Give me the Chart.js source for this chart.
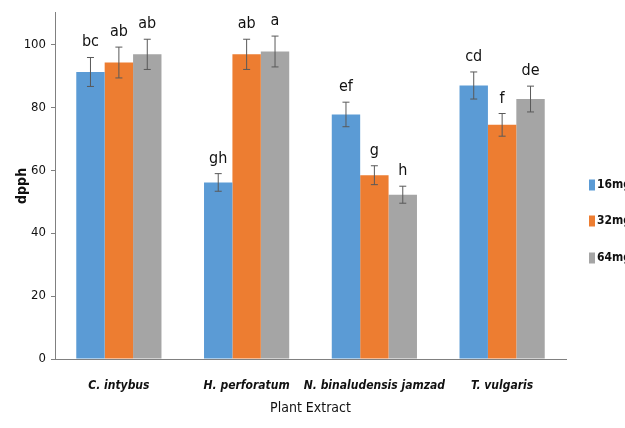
<!DOCTYPE html>
<html>
<head>
<meta charset="utf-8">
<script src="https://cdn.jsdelivr.net/npm/chart.js@4.4.0/dist/chart.umd.min.js"></script>
<style>
  html, body { margin: 0; padding: 0; background: #fff; }
  #wrap { width: 625px; height: 428px; }
</style>
</head>
<body>
<div id="wrap"><canvas id="bar-chart"></canvas></div>
<script>
// data
var plants = ["C. intybus", "H. perforatum", "N. binaludensis jamzad", "T. vulgaris"];
var doses = ["16mg", "32mg", "64mg"];
var dose16 = [91.2, 56.1, 77.7, 86.9];
var dose32 = [94.2, 96.8, 58.4, 74.4];
var dose64 = [96.8, 97.7, 52.2, 82.6];
var err16 = [4.6, 2.8, 3.9, 4.3];
var err32 = [4.9, 4.8, 3.0, 3.6];
var err64 = [4.8, 4.9, 2.7, 4.1];
var letters16 = ["bc", "gh", "ef", "cd"];
var letters32 = ["ab", "ab", "g", "f"];
var letters64 = ["ab", "a", "h", "de"];
var colors = ["#5B9BD5", "#ED7D31", "#A5A5A5"];

var FONT = "'DejaVu Sans Condensed', 'Liberation Sans Narrow', sans-serif";

// error bars + letters on top of each bar
var errorBars = {
  id: 'errorBars',
  afterDatasetsDraw: function(chart) {
    var ctx = chart.ctx;
    var y = chart.scales.y;
    chart.data.datasets.forEach(function(ds, i) {
      var meta = chart.getDatasetMeta(i);
      meta.data.forEach(function(bar, j) {
        var v = ds.data[j], e = ds.errors[j];
        var yt = y.getPixelForValue(v + e), yb = y.getPixelForValue(v - e);
        ctx.save();
        ctx.strokeStyle = '#595959';
        ctx.lineWidth = 1;
        ctx.beginPath();
        ctx.moveTo(bar.x, yt); ctx.lineTo(bar.x, yb);
        ctx.moveTo(bar.x - 3.5, yt); ctx.lineTo(bar.x + 3.5, yt);
        ctx.moveTo(bar.x - 3.5, yb); ctx.lineTo(bar.x + 3.5, yb);
        ctx.stroke();
        ctx.fillStyle = '#111';
        ctx.font = '16px ' + FONT;
        ctx.textAlign = 'center';
        ctx.textBaseline = 'alphabetic';
        ctx.fillText(ds.letters[j], bar.x, yt - 11);
        ctx.restore();
      });
    });
  }
};

// legend at the right, Excel style
var sideLegend = {
  id: 'sideLegend',
  afterDraw: function(chart) {
    var ctx = chart.ctx;
    var ys = [185, 221, 258];
    chart.data.datasets.forEach(function(ds, i) {
      ctx.save();
      ctx.fillStyle = ds.backgroundColor;
      ctx.fillRect(589, ys[i] - 5.5, 6, 11);
      ctx.fillStyle = '#111';
      ctx.font = 'bold 12px ' + FONT;
      ctx.textAlign = 'left';
      ctx.textBaseline = 'middle';
      ctx.fillText(ds.label, 597, ys[i]);
      ctx.restore();
    });
  }
};

new Chart(document.getElementById("bar-chart"), {
  type: 'bar',
  data: {
    labels: plants,
    datasets: [
      { label: doses[0], data: dose16, errors: err16, letters: letters16, backgroundColor: colors[0] },
      { label: doses[1], data: dose32, errors: err32, letters: letters32, backgroundColor: colors[1] },
      { label: doses[2], data: dose64, errors: err64, letters: letters64, backgroundColor: colors[2] }
    ]
  },
  options: {
    responsive: true,
    maintainAspectRatio: false,
    animation: false,
    categoryPercentage: 0.667,
    barPercentage: 1,
    layout: {
      padding: { left: 0, right: 59, top: 10, bottom: 0 }
    },
    plugins: {
      legend: { display: false },
      tooltip: { enabled: false }
    },
    scales: {
      x: {
        grid: { display: false },
        border: { display: true, color: '#808080', width: 1 },
        ticks: {
          color: '#111',
          padding: 12,
          maxRotation: 0,
          minRotation: 0,
          autoSkip: false,
          font: { family: FONT, size: 12, style: 'italic', weight: 'bold' }
        },
        title: {
          display: true,
          text: 'Plant Extract',
          color: '#111',
          padding: { top: 0, bottom: 11 },
          font: { family: FONT, size: 14 }
        },
        afterFit: function(scale) { scale.height = 69; }
      },
      y: {
        min: 0,
        max: 110,
        ticks: {
          stepSize: 20,
          color: '#111',
          padding: 5,
          font: { family: FONT, size: 13 }
        },
        afterBuildTicks: function(scale) {
          scale.ticks = scale.ticks.filter(function(t) { return t.value <= 100; });
        },
        grid: { display: true, drawOnChartArea: false, tickLength: 4, color: '#808080' },
        border: { display: true, color: '#808080', width: 1 },
        title: {
          display: true,
          text: 'dpph',
          color: '#111',
          padding: { top: 14, bottom: 0 },
          font: { family: FONT, size: 14, weight: 'bold' }
        },
        afterFit: function(scale) { scale.width = 55; }
      }
    }
  },
  plugins: [errorBars, sideLegend]
});
</script>
</body>
</html>
